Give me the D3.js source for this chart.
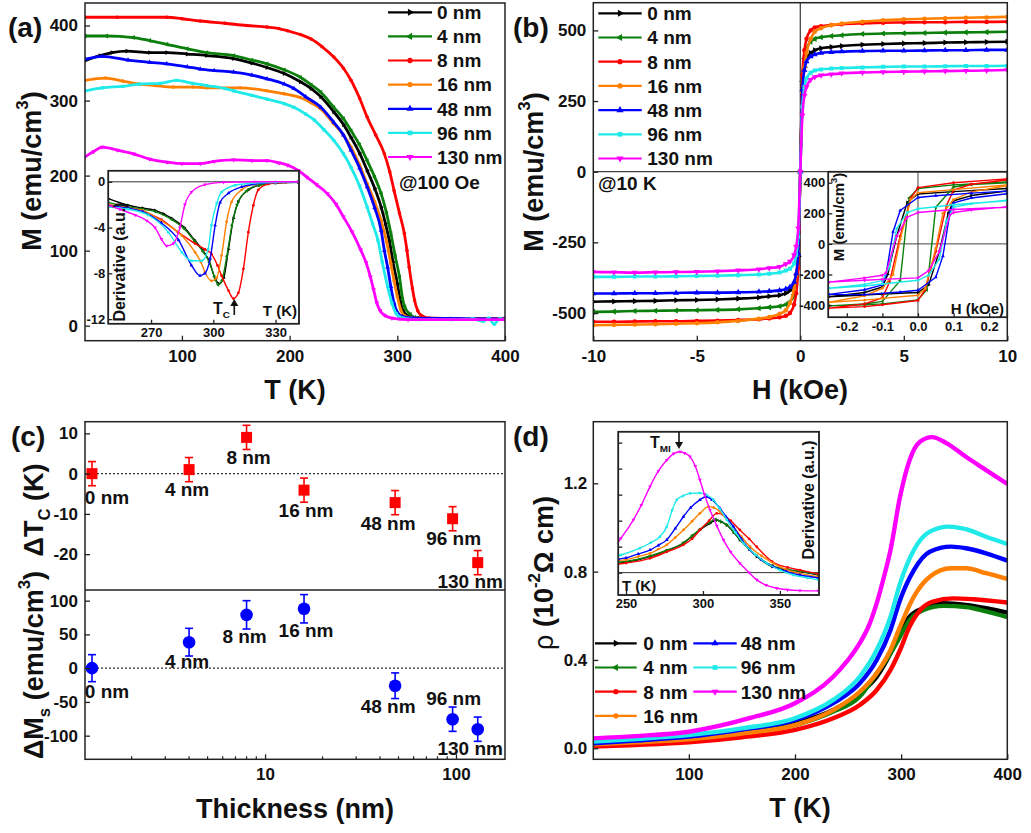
<!DOCTYPE html>
<html><head><meta charset="utf-8">
<script src="https://cdn.jsdelivr.net/npm/d3@7"></script>
<style>body{margin:0;background:#fff}</style>
</head><body><svg id="c" width="1031" height="833"></svg>
<script>
// ---------------- DATA ----------------
const names = ["0 nm","4 nm","8 nm","16 nm","48 nm","96 nm","130 nm"];
const colors = ["#000000","#0b7f0b","#ff0000","#ff8000","#0000ff","#1fe9e9","#ff00ff"];

// (a) M vs T @100 Oe  [T (K), M (emu/cm3)]
const mt0 = [[10,353],[24,360],[35,364],[49,366],[70,364],[86,364],[105,362],[123,360],[148,356],[165,350],[179,344],[195,336],[210,325],[220,316],[229,305],[241,285],[250,268],[257,251],[265,230],[272,207],[279,183],[285,158],[289,136],[292.5,114],[296,85],[300,56],[303,32],[305,21],[310,13],[320,10],[350,9],[400,9]];
const mt4 = [[10,386],[30,386],[55,384],[70,380],[86,375],[105,369],[123,364],[148,360],[165,354],[179,349],[195,341],[210,331],[220,321],[229,311],[241,291],[250,276],[257,260],[265,241],[272,220],[279,198],[285,176],[290,150],[294,123],[298,93],[302,65],[305,35],[307,25],[312,15],[316,11],[330,9],[400,9]];
const mt8 = [[10,411],[40,411],[86,411],[100,409],[117,406],[140,403],[160,400],[179,398],[190,396],[198,393],[210,388],[220,382],[230,372],[241,358],[250,343],[257,327],[265,303],[272,278],[280,254],[288,229],[293,205],[297,180],[302,150],[306.5,123],[309,100],[311,78],[314,50],[316,34],[319,20],[322,14],[330,10],[400,9]];
const mt16 = [[10,327],[29,330],[45,326],[60,322],[75,320],[92,318],[110,318],[123,317],[154,317],[179,313],[195,309],[210,304],[220,297],[229,289],[241,269],[250,254],[257,238],[265,214],[272,189],[279,165],[285,140],[290,112],[294,83],[297,60],[300,39],[303,22],[307,13],[315,10],[400,9]];
const mt48 = [[10,355],[26,359],[50,354],[70,351],[86,349],[105,345],[117,342],[130,340],[148,338],[165,334],[179,329],[195,322],[204,316],[215,305],[229,291],[241,271],[250,254],[257,234],[265,210],[272,185],[279,157],[285,127],[288,100],[291,78],[294,52],[297,30],[300,18],[305,12],[315,10],[400,9]];
const mt96 = [[10,313],[26,317],[45,319],[60,322],[80,323],[95,327],[110,323],[123,320],[140,316],[148,313],[165,307],[179,302],[195,296],[204,291],[215,282],[223,274],[232,261],[241,247],[250,229],[257,211],[265,186],[272,158],[277,136],[282,114],[286,85],[291,52],[295,30],[299,16],[305,10],[320,8],[350,8],[370,9],[380,6],[385,10],[390,2],[395,9],[400,8]];
const mt130 = [[10,225],[18,232],[26,238],[40,234],[55,229],[70,222],[86,218],[100,216],[117,216],[130,219],[148,221],[165,220],[179,220],[190,217],[198,214],[208,207],[216,198],[225,188],[235,176],[243,162],[250,145],[258,125],[266,101],[271,84],[275,65],[278,48],[281,30],[284,20],[288,14],[295,10],[310,8],[400,8]];

// (a) inset dM/dT  [T (K), derivative]
const dm0 = [[249.4,-1.47],[259,-2.05],[266,-2.3],[272,-2.5],[276,-2.8],[280,-3.2],[286,-4.0],[291,-5.1],[295,-6.0],[298,-6.9],[301,-8.5],[302.8,-8.9],[305,-8.4],[307.3,-5.9],[309.7,-3.2],[312,-1.76],[317,-0.7],[322,-0.3],[330,-0.1],[341,-0.05]];
const dm4 = [[249.4,-1.8],[259,-2.2],[266,-2.4],[272,-2.6],[280,-3.3],[286,-4.1],[291,-5.2],[295,-6.1],[298,-7.0],[300.5,-8.3],[302.3,-9.0],[304.2,-8.6],[306.5,-6.5],[309,-3.8],[311.5,-2.0],[316,-0.8],[322,-0.3],[330,-0.1],[341,-0.05]];
const dm8 = [[249.4,-2.0],[259,-2.3],[266,-2.6],[275,-3.3],[283,-4.4],[291.2,-5.4],[296,-5.9],[299.1,-6.3],[302,-7.3],[304,-8.2],[307.3,-9.5],[309.7,-10.2],[312.1,-9.7],[314.5,-7.6],[316.9,-4.4],[319.3,-2.05],[321.7,-0.7],[326.5,-0.2],[335,-0.05],[341,0]];
const dm16 = [[249.4,-2.0],[259,-2.3],[266,-2.5],[275,-3.4],[284.8,-4.7],[291.2,-6.15],[294,-7.0],[296,-7.9],[299.1,-8.65],[301.6,-8.4],[304,-6.45],[306.4,-3.5],[308.8,-1.76],[313.7,-0.7],[320,-0.2],[330,-0.05],[341,0]];
const dm48 = [[249.4,-2.1],[259,-2.3],[266,-2.6],[275,-3.6],[283.3,-5.1],[289.5,-7.3],[293.6,-8.2],[296,-8.0],[298.5,-6.7],[300.9,-3.8],[303.3,-1.8],[307.3,-1.0],[313.7,-0.45],[320,-0.2],[330,-0.05],[341,0]];
const dm96 = [[249.4,-2.2],[259,-2.4],[268.6,-2.9],[278.3,-4.4],[284.8,-6.15],[289.5,-6.9],[294.4,-6.9],[297.5,-5.9],[299.1,-3.8],[301.6,-1.9],[304,-0.9],[310.5,-0.3],[320,-0.1],[330,-0.05],[341,0]];
const dm130 = [[249.4,-2.05],[255,-2.4],[262.3,-2.9],[268,-3.4],[271.9,-4.0],[275,-5.0],[277.5,-5.6],[280.7,-5.4],[283.9,-4.0],[286.3,-2.0],[289.5,-0.9],[296,-0.25],[305,-0.05],[320,0],[341,0]];

// (b) M vs H @10 K
const hGrid = [-10,-9,-8,-7,-6,-5,-4,-3,-2,-1.5,-1,-0.7,-0.5,-0.3,-0.2,-0.1,0,0.1,0.2,0.3,0.5,0.7,1,1.5,2,3,4,5,6,7,8,9,10];
const mh0 = [-460,-459,-458,-457,-455,-454,-452,-449,-445,-441,-437,-430,-420,-400,-370,-300,0,300,370,400,420,430,437,441,445,449,452,454,455,457,458,459,460];
const mh4 = [-496,-495,-493,-492,-491,-490,-489,-487,-483,-480,-476,-470,-460,-435,-400,-320,0,320,400,435,460,470,476,480,483,487,489,490,491,492,493,494,495];
const mh8 = [-531,-531,-530,-529,-529,-528,-527,-525,-522,-519,-515,-510,-500,-470,-430,-340,0,340,430,470,500,510,515,519,522,525,527,528,529,529,530,530,531];
const mh16 = [-543,-542,-541,-540,-538,-536,-533,-528,-520,-514,-503,-490,-465,-415,-365,-280,0,280,370,420,470,495,508,518,524,531,536,539,541,543,545,546,548];
const mh48 = [-431,-431,-430,-430,-429,-428,-428,-427,-425,-423,-420,-415,-408,-390,-360,-290,0,290,360,390,408,415,420,423,425,427,428,428,429,430,430,431,431];
const mh96 = [-372,-372,-371,-371,-370,-369,-368,-366,-364,-361,-357,-350,-343,-325,-295,-230,0,230,300,330,350,358,362,365,367,369,371,372,372,373,374,374,375];
const mh130 = [-355,-356,-357,-356,-355,-354,-352,-349,-345,-341,-336,-327,-318,-295,-265,-200,0,200,270,300,325,335,341,345,348,351,353,354,355,356,357,358,360];

// (b) inset loops [H (kOe), M]: descending branch then ascending branch
const loop0 = [[0.25,362],[0.1,342],[0,326],[-0.03,272],[-0.06,50],[-0.085,-200],[-0.1,-282],[-0.15,-318],[-0.25,-346],[-0.15,-335],[-0.1,-328],[0,-318],[0.03,-268],[0.06,-50],[0.085,200],[0.1,282],[0.15,316],[0.25,346]];
const loop4 = [[0.25,405],[0.1,386],[0,362],[-0.025,300],[-0.05,-240],[-0.1,-376],[-0.15,-392],[-0.25,-405],[-0.15,-398],[-0.1,-392],[0,-366],[0.025,-300],[0.05,240],[0.1,372],[0.15,388],[0.25,400]];
const loop8 = [[0.25,425],[0.1,400],[0,368],[-0.02,300],[-0.05,50],[-0.08,-250],[-0.1,-352],[-0.15,-392],[-0.25,-420],[-0.15,-410],[-0.1,-398],[0,-370],[0.02,-300],[0.05,-50],[0.08,250],[0.1,352],[0.15,390],[0.25,418]];
const loop16 = [[0.25,385],[0.1,355],[0,334],[-0.02,292],[-0.05,30],[-0.07,-200],[-0.1,-290],[-0.15,-340],[-0.25,-382],[-0.15,-368],[-0.1,-356],[0,-336],[0.02,-292],[0.05,-30],[0.07,200],[0.1,290],[0.15,340],[0.25,380]];
const loop48 = [[0.25,345],[0.15,332],[0.05,315],[0,303],[-0.05,218],[-0.07,80],[-0.09,-204],[-0.1,-268],[-0.15,-300],[-0.25,-330],[-0.15,-332],[-0.05,-315],[0,-303],[0.05,-218],[0.07,-80],[0.09,204],[0.1,268],[0.15,300],[0.25,328]];
const loop96 = [[0.25,282],[0.1,256],[0,230],[-0.03,205],[-0.06,100],[-0.08,-150],[-0.1,-240],[-0.15,-265],[-0.25,-290],[-0.15,-275],[-0.1,-262],[0,-238],[0.03,-205],[0.06,-100],[0.08,150],[0.1,240],[0.15,262],[0.25,286]];
const loop130 = [[0.25,240],[0.1,225],[0,205],[-0.03,175],[-0.06,50],[-0.09,-190],[-0.1,-205],[-0.15,-222],[-0.25,-250],[-0.15,-238],[-0.1,-232],[0,-222],[0.03,-175],[0.06,-50],[0.09,190],[0.1,205],[0.15,222],[0.25,242]];

// (c) thickness dependence
const thickness = [0, 4, 8, 16, 48, 96, 130];
const thicknessPlotX = [1.24, 4, 8, 16, 48, 96, 130];   // 0 nm drawn left of 2 on the log axis
const dTc = [0, 1, 9, -4.1, -7.2, -11.2, -22.1];
const dTcErr = [3, 3, 3, 3, 3, 3, 3];
const dMs = [0, 38.5, 79, 88, -26, -75.6, -90.4];
const dMsErr = [20, 20.5, 21, 21, 19, 18, 18];

// (d) resistivity [T (K), rho (1e-2 Ohm cm)]
const rt0 = [[10,0.015],[50,0.024],[100,0.038],[150,0.07],[200,0.113],[236,0.173],[261,0.249],[277,0.324],[290,0.43],[299,0.521],[308,0.596],[321,0.634],[340,0.657],[361,0.649],[380,0.634],[400,0.614]];
const rt4 = [[10,0.023],[50,0.031],[100,0.045],[150,0.07],[200,0.105],[236,0.166],[261,0.234],[277,0.34],[290,0.43],[299,0.506],[308,0.581],[321,0.626],[340,0.645],[361,0.64],[380,0.62],[400,0.594]];
const rt8 = [[10,0.008],[50,0.015],[100,0.027],[150,0.05],[200,0.083],[236,0.136],[261,0.196],[277,0.264],[290,0.355],[299,0.445],[308,0.551],[318,0.626],[330,0.664],[349,0.679],[368,0.675],[400,0.66]];
const rt16 = [[10,0.018],[50,0.027],[100,0.041],[150,0.067],[200,0.105],[236,0.173],[261,0.256],[277,0.34],[290,0.445],[299,0.551],[312,0.687],[327,0.777],[347,0.815],[361,0.815],[380,0.793],[400,0.767]];
const rt48 = [[10,0.023],[50,0.035],[100,0.053],[150,0.085],[200,0.128],[236,0.204],[261,0.294],[277,0.40],[290,0.536],[299,0.672],[312,0.807],[327,0.89],[347,0.913],[361,0.906],[380,0.883],[400,0.85]];
const rt96 = [[10,0.03],[50,0.042],[100,0.06],[150,0.09],[200,0.136],[236,0.219],[261,0.324],[277,0.445],[290,0.596],[299,0.747],[312,0.898],[327,0.981],[345,1.004],[361,0.992],[380,0.958],[400,0.925]];
const rt130 = [[10,0.045],[50,0.055],[100,0.075],[157,0.136],[200,0.204],[236,0.324],[250,0.40],[261,0.476],[270,0.56],[277,0.657],[284,0.78],[290,0.898],[299,1.14],[308,1.306],[318,1.389],[329,1.409],[343,1.381],[361,1.32],[380,1.26],[400,1.197]];

// (d) inset d(rho)/dT
const dr0 = [[245,0.36],[250,0.4],[265.6,0.62],[276.5,0.85],[287.3,1.13],[293,1.4],[298,1.64],[304.6,1.9],[307,2.0],[309,2.02],[312,1.95],[315.5,1.83],[320,1.55],[324,1.26],[330,0.9],[335,0.62],[345,0.23],[355,0.1],[363,0.04],[375,-0.09]];
const dr4 = [[245,0.4],[250,0.43],[265.6,0.64],[276.5,0.86],[287.3,1.15],[293,1.42],[298,1.66],[304,1.92],[308,2.05],[311,1.98],[315,1.85],[320,1.57],[324,1.28],[330,0.92],[335,0.64],[345,0.27],[355,0.12],[363,0.05],[375,-0.07]];
const dr8 = [[245,0.33],[250,0.37],[265.6,0.55],[276.5,0.8],[287.3,1.07],[293,1.3],[298,1.64],[304,2.0],[309,2.28],[313.3,2.22],[318,2.0],[324,1.64],[330,1.3],[335,0.99],[345,0.42],[355,0.2],[363,0.1],[375,-0.05]];
const dr16 = [[245,0.47],[250,0.5],[258,0.62],[265.6,0.74],[271,0.9],[276.5,1.07],[282,1.35],[287.3,1.64],[293,1.98],[298,2.28],[303.6,2.54],[307,2.5],[311,2.35],[315,2.1],[319.8,1.77],[325,1.38],[330.6,1.0],[338,0.65],[345.8,0.36],[354,0.12],[363,-0.03],[375,-0.16]];
const dr48 = [[245,0.52],[250,0.57],[258,0.72],[265.6,0.87],[271,1.05],[276.5,1.26],[282,1.7],[287.3,2.15],[292,2.5],[298,2.8],[302,2.92],[306,2.8],[311,2.48],[315,2.15],[319.8,1.77],[325,1.3],[330.6,0.87],[338,0.5],[345.8,0.23],[354,0.05],[363,-0.09],[375,-0.2]];
const dr96 = [[245,0.65],[246.6,0.68],[259,0.94],[266,1.15],[272,1.38],[276.5,1.77],[280,2.4],[283,2.8],[287,2.95],[291.6,3.05],[298,3.06],[302,3.0],[306.8,2.8],[311,2.45],[315.5,2.03],[321,1.55],[326.3,1.13],[334,0.7],[341.5,0.36],[350,0.1],[358.8,-0.09],[368,-0.2],[375,-0.28]];
const dr130 = [[245,1.2],[246.6,1.32],[254.8,2.03],[260,2.6],[265.6,3.31],[271,3.9],[276.5,4.33],[281,4.58],[285.1,4.65],[288,4.6],[291.6,4.46],[295,4.1],[298,3.57],[301,3.0],[304.6,2.41],[309,1.8],[313.3,1.26],[318,0.8],[324,0.36],[330,0.0],[335,-0.28],[341,-0.48],[348,-0.6],[355,-0.66],[363,-0.69],[375,-0.7]];

// tick values
const aTicksX = [100,200,300,400], aTicksY = [0,100,200,300,400];
const aInTicksX = [270,300,330], aInTicksY = [0,-4,-8,-12];
const bTicksX = [-10,-5,0,5,10], bTicksY = [-500,-250,0,250,500];
const bInTicksX = [-0.2,-0.1,0,0.1,0.2], bInTicksY = [-400,-200,0,200,400];
const cTicksX = [10,100], cMinorX = [2,3,4,5,6,7,8,9,20,30,40,50,60,70,80,90];
const cTicksYT = [-20,-10,0,10], cTicksYM = [-100,-50,0,50,100];
const dTicksX = [100,200,300,400], dTicksY = [0,0.4,0.8,1.2];
const dInTicksX = [250,300,350], dInTicksY = [0,1,2,3,4,5];

// ---------------- DRAWING ----------------
const FONT = '"Liberation Sans", Arial, Helvetica, sans-serif';
const TICK_FS = 17, LEG_FS = 19;
const svg = d3.select("#c");
svg.append("rect").attr("width",1031).attr("height",833).attr("fill","#fff");
const defs = svg.append("defs");
let clipN = 0;
function clip(x0,y0,x1,y1){
  const id = "clip"+(clipN++);
  defs.append("clipPath").attr("id",id).append("rect").attr("x",x0).attr("y",y0).attr("width",x1-x0).attr("height",y1-y0);
  return "url(#"+id+")";
}
const symbols = [
  {t:d3.symbolTriangle, r:90},{t:d3.symbolTriangle, r:-90},{t:d3.symbolCircle, r:0},
  {t:d3.symbolCircle, r:0},{t:d3.symbolTriangle, r:0},{t:d3.symbolSquare, r:0},{t:d3.symbolTriangle, r:180}];

function txt(g, x, y, s, fs, opts={}){
  const t = g.append("text").attr("x",x).attr("y",y).attr("font-family",FONT)
    .attr("font-weight",opts.weight||"bold").attr("font-size",fs).attr("fill","#111")
    .attr("text-anchor",opts.anchor||"start");
  if (s) t.text(s);
  if (opts.rotate) t.attr("transform",`rotate(-90,${x},${y})`);
  return t;
}
function rich(t, parts){
  parts.forEach(([s,k])=>{
    const sp = t.append("tspan").text(s);
    if (k==="sup") sp.attr("font-size","62%").attr("dy","-0.75em");
    else if (k==="sub") sp.attr("font-size","62%").attr("dy","0.4em");
    else if (k==="back-sup") sp.attr("dy","0.46em");
    else if (k==="back-sub") sp.attr("dy","-0.25em");
    else if (k==="norm") sp.attr("font-weight","normal");
  });
  return t;
}
function frame(g,x0,y0,x1,y1,fill){
  g.append("rect").attr("x",x0).attr("y",y0).attr("width",x1-x0).attr("height",y1-y0)
   .attr("fill",fill||"none").attr("stroke","#222").attr("stroke-width",1.5);
}
function styleAxis(sel, fs){
  sel.select(".domain").remove();
  sel.selectAll("line").attr("stroke","#222").attr("stroke-width",1.3);
  sel.selectAll("text").attr("font-size",fs).attr("font-family",FONT).attr("font-weight","bold").attr("fill","#111");
}
function xAxis(g, sc, y, ticks, fmt, fs, pad, len){
  const a = d3.axisBottom(sc).tickValues(ticks).tickFormat(fmt).tickSizeInner(-len).tickSizeOuter(0).tickPadding(pad);
  styleAxis(g.append("g").attr("transform",`translate(0,${y})`).call(a), fs);
}
function yAxis(g, sc, x, ticks, fmt, fs, pad, len){
  const a = d3.axisLeft(sc).tickValues(ticks).tickFormat(fmt).tickSizeInner(-len).tickSizeOuter(0).tickPadding(pad);
  styleAxis(g.append("g").attr("transform",`translate(${x},0)`).call(a), fs);
}
function series(g, xs, ys, data, i, o){
  g.append("path").datum(data).attr("fill","none").attr("stroke",colors[i])
    .attr("stroke-width",o.w).attr("stroke-linejoin","round")
    .attr("d", d3.line().x(d=>xs(d[0])).y(d=>ys(d[1])).curve(o.curve||d3.curveMonotoneX));
  if (o.ms>0){
    const sym = d3.symbol().type(symbols[i].t).size(o.ms);
    g.selectAll(null).data(data).join("path").attr("d",sym).attr("fill",colors[i])
      .attr("transform",d=>`translate(${xs(d[0])},${ys(d[1])}) rotate(${symbols[i].r})`);
  }
}
function legendRow(g, x0, x1, y, tx, i, fs){
  g.append("line").attr("x1",x0).attr("x2",x1).attr("y1",y).attr("y2",y).attr("stroke",colors[i]).attr("stroke-width",2.2);
  g.append("path").attr("d",d3.symbol().type(symbols[i].t).size(22)).attr("fill",colors[i])
    .attr("transform",`translate(${(x0+x1)/2},${y}) rotate(${symbols[i].r})`);
  txt(g, tx, y, names[i], fs).attr("dy","0.36em");
}
function arrow(g, x, yTail, yTip){
  const dir = yTip < yTail ? -1 : 1;
  g.append("line").attr("x1",x).attr("x2",x).attr("y1",yTail).attr("y2",yTip - dir*5).attr("stroke","#111").attr("stroke-width",1.6);
  g.append("path").attr("d",`M${x},${yTip} L${x-4},${yTip-dir*7} L${x+4},${yTip-dir*7} Z`).attr("fill","#111");
}
const fmtInt = d => String(d);
const fmt1 = d => d.toFixed(1);

// ============ PANEL (a) ============
{
  const g = svg.append("g");
  const x = d3.scaleLinear().domain([10,400]).range([85,505]);
  const y = d3.scaleLinear().domain([-20,430]).range([340.7,3]);
  const pg = g.append("g").attr("clip-path",clip(85,3,505,340.7));
  [mt0,mt4,mt8,mt16,mt48,mt96,mt130].forEach((d,i)=>series(pg,x,y,d,i,{w:2.8,ms:10}));
  frame(g,85,3,505,340.7);
  xAxis(g,x,340.7,aTicksX,fmtInt,TICK_FS,9,5);
  yAxis(g,y,85,aTicksY,fmtInt,TICK_FS,7,5);
  [12.3,36.4,60.5,84.6,108.8,132.9,157].forEach((yy,i)=>legendRow(g,388,432,yy,437,i,LEG_FS));
  txt(g,399,181.7,"@100 Oe",LEG_FS).attr("dy","0.36em");
  txt(g,8,37,"(a)",28);
  txt(g,295,399,"T (K)",27,{anchor:"middle"});
  rich(txt(g,41,171,"",27,{anchor:"middle",rotate:true}),[["M (emu/cm"],["3","sup"],[")","back-sup"]]);

  // inset
  const ix = d3.scaleLinear().domain([249.4,341.3]).range([108.3,299]);
  const iy = d3.scaleLinear().domain([-12.4,0.97]).range([323.7,170.7]);
  frame(g,108.3,170.7,299,323.7,"#fff");
  g.append("line").attr("x1",108.3).attr("x2",299).attr("y1",iy(0)).attr("y2",iy(0)).attr("stroke","#333").attr("stroke-width",1);
  const ig = g.append("g").attr("clip-path",clip(108.3,170.7,299,323.7));
  [dm0,dm4,dm8,dm16,dm48,dm96,dm130].forEach((d,i)=>series(ig,ix,iy,d,i,{w:1.4,ms:6}));
  frame(g,108.3,170.7,299,323.7);
  xAxis(g,ix,323.7,aInTicksX,fmtInt,13,4,4);
  yAxis(g,iy,108.3,aInTicksY,fmtInt,13,3,4);
  txt(g,125,262,"Derivative (a.u.)",16,{anchor:"middle",rotate:true});
  rich(txt(g,213,314,"",16),[["T"],["C","sub"]]);
  arrow(g,234.3,315,299);
  txt(g,297,316,"T (K)",15,{anchor:"end"});
}

// ============ PANEL (b) ============
{
  const g = svg.append("g");
  const x = d3.scaleLinear().domain([-10,10]).range([593.3,1007.3]);
  const y = d3.scaleLinear().domain([-598,598]).range([340.7,2.7]);
  g.append("line").attr("x1",593.3).attr("x2",1007.3).attr("y1",y(0)).attr("y2",y(0)).attr("stroke","#444").attr("stroke-width",1.3);
  g.append("line").attr("x1",x(0)).attr("x2",x(0)).attr("y1",2.7).attr("y2",340.7).attr("stroke","#444").attr("stroke-width",1.3);
  const pg = g.append("g").attr("clip-path",clip(593.3,2.7,1007.3,340.7));
  [mh0,mh4,mh8,mh16,mh48,mh96,mh130].forEach((vals,i)=>{
    const d = hGrid.map((h,k)=>[h,vals[k]]);
    series(pg,x,y,d,i,{w:2.6,ms:16,curve:d3.curveMonotoneX});
  });
  frame(g,593.3,2.7,1007.3,340.7);
  xAxis(g,x,340.7,bTicksX,fmtInt,TICK_FS,9,5);
  yAxis(g,y,593.3,bTicksY,fmtInt,TICK_FS,7,5);
  [13.3,37.5,61.7,85.9,110.1,134.3,158.5].forEach((yy,i)=>legendRow(g,598.3,641.7,yy,647.3,i,LEG_FS));
  txt(g,598,183.5,"@10 K",LEG_FS).attr("dy","0.36em");
  txt(g,513,37,"(b)",28);
  txt(g,800,399,"H (kOe)",27,{anchor:"middle"});
  rich(txt(g,543,172,"",27,{anchor:"middle",rotate:true}),[["M (emu/cm"],["3","sup"],[")","back-sup"]]);

  // inset
  const ix = d3.scaleLinear().domain([-0.252,0.251]).range([828.3,1007.3]);
  const iy = d3.scaleLinear().domain([-480,472]).range([317.3,171.7]);
  frame(g,828.3,171.7,1007.3,317.3,"#fff");
  g.append("line").attr("x1",828.3).attr("x2",1007.3).attr("y1",iy(0)).attr("y2",iy(0)).attr("stroke","#444").attr("stroke-width",1);
  g.append("line").attr("x1",ix(0)).attr("x2",ix(0)).attr("y1",171.7).attr("y2",317.3).attr("stroke","#444").attr("stroke-width",1);
  const ig = g.append("g").attr("clip-path",clip(828.3,171.7,1007.3,317.3));
  [loop0,loop4,loop8,loop16,loop48,loop96,loop130].forEach((d,i)=>series(ig,ix,iy,d,i,{w:1.4,ms:6,curve:d3.curveLinear}));
  frame(g,828.3,171.7,1007.3,317.3);
  xAxis(g,ix,317.3,bInTicksX,fmt1,13,4,4);
  yAxis(g,iy,828.3,bInTicksY,fmtInt,13,3,4);
  rich(txt(g,844,217,"",15,{anchor:"middle",rotate:true}),[["M (emu/cm"],["3","sup"],[")","back-sup"]]);
  txt(g,1004,314,"H (kOe)",15,{anchor:"end"});
}

// ============ PANEL (c) ============
{
  const g = svg.append("g");
  const x = d3.scaleLog().domain([1.14,180.6]).range([85,505]);
  const yT = d3.scaleLinear().domain([-28.9,12.9]).range([590,421.7]);
  const yM = d3.scaleLinear().domain([-135,115.8]).range([759.3,590]);
  g.append("line").attr("x1",85).attr("x2",505).attr("y1",yT(0)).attr("y2",yT(0)).attr("stroke","#333").attr("stroke-width",1.2).attr("stroke-dasharray","2,2");
  g.append("line").attr("x1",85).attr("x2",505).attr("y1",yM(0)).attr("y2",yM(0)).attr("stroke","#333").attr("stroke-width",1.2).attr("stroke-dasharray","2,2");
  frame(g,85,421.7,505,759.3);
  g.append("line").attr("x1",85).attr("x2",505).attr("y1",590).attr("y2",590).attr("stroke","#222").attr("stroke-width",1.5);
  const labT = [[15,30],[-2,26],[2,27],[2,27],[-7,27],[1,26],[-7.5,25]];
  const labM = [[15,30],[-2,26],[-2,28],[2,28],[-7,27],[1,-14],[-7.5,26]];
  thicknessPlotX.forEach((tx,k)=>{
    txt(g,x(tx)+labT[k][0],yT(dTc[k])+labT[k][1],names[k],LEG_FS,{anchor:"middle"});
    txt(g,x(tx)+labM[k][0],yM(dMs[k])+labM[k][1],names[k],LEG_FS,{anchor:"middle"});
  });
  thicknessPlotX.forEach((tx,k)=>{
    const px = x(tx);
    [[yT,dTc[k],dTcErr[k],"#ff0000"],[yM,dMs[k],dMsErr[k],"#0000ff"]].forEach(([ys,v,e,c])=>{
      g.append("line").attr("x1",px).attr("x2",px).attr("y1",ys(v+e)).attr("y2",ys(v-e)).attr("stroke",c).attr("stroke-width",1.6);
      [v+e,v-e].forEach(w=>g.append("line").attr("x1",px-4).attr("x2",px+4).attr("y1",ys(w)).attr("y2",ys(w)).attr("stroke",c).attr("stroke-width",1.6));
    });
    g.append("rect").attr("x",px-5.5).attr("y",yT(dTc[k])-5.5).attr("width",11).attr("height",11).attr("fill","#ff0000");
    g.append("circle").attr("cx",px).attr("cy",yM(dMs[k])).attr("r",6.3).attr("fill","#0000ff");
  });
  xAxis(g,x,759.3,cTicksX,fmtInt,TICK_FS,9,5);
  const mn = g.append("g").attr("transform","translate(0,759.3)");
  mn.selectAll(null).data(cMinorX).join("line").attr("x1",d=>x(d)).attr("x2",d=>x(d)).attr("y1",0).attr("y2",-3).attr("stroke","#222").attr("stroke-width",1.2);
  yAxis(g,yT,85,cTicksYT,fmtInt,TICK_FS,7,5);
  yAxis(g,yM,85,cTicksYM,fmtInt,TICK_FS,7,5);
  txt(g,11,446,"(c)",28);
  txt(g,295,818,"Thickness (nm)",27,{anchor:"middle"});
  rich(txt(g,43,510,"",27,{anchor:"middle",rotate:true}),[["ΔT"],["C","sub"],[" (K)","back-sub"]]);
  rich(txt(g,43,665,"",27,{anchor:"middle",rotate:true}),[["ΔM"],["s","sub"],[" (emu/cm","back-sub"],["3","sup"],[")","back-sup"]]);
}

// ============ PANEL (d) ============
{
  const g = svg.append("g");
  const x = d3.scaleLinear().domain([10,400]).range([593.3,1007.3]);
  const y = d3.scaleLinear().domain([-0.05,1.479]).range([759.3,421.7]);
  const pg = g.append("g").attr("clip-path",clip(593.3,421.7,1007.3,759.3));
  [rt0,rt4,rt8,rt16,rt48,rt96,rt130].forEach((d,i)=>series(pg,x,y,d,i,{w:4.4,ms:0}));
  frame(g,593.3,421.7,1007.3,759.3);
  xAxis(g,x,759.3,dTicksX,fmtInt,TICK_FS,9,5);
  yAxis(g,y,593.3,dTicksY,fmt1,TICK_FS,6,5);
  [0,1,2,3].forEach(k=>legendRow(g,595,636.7,643.3+k*24.2,643.3,k,LEG_FS));
  [4,5,6].forEach((i,k)=>legendRow(g,693.3,736.7,643.3+k*24.2,740.7,i,LEG_FS));
  txt(g,513,446,"(d)",28);
  txt(g,800,817,"T (K)",27,{anchor:"middle"});
  rich(txt(g,553,573,"",27,{anchor:"middle",rotate:true}),[["ρ","norm"],[" (10"],["-2","sup"],["Ω","back-sup"],[" cm)"]]);

  // inset
  const ix = d3.scaleLinear().domain([245,375.4]).range([618.3,819]);
  const iy = d3.scaleLinear().domain([-0.86,5.42]).range([595,431.7]);
  frame(g,618.3,431.7,819,595,"#fff");
  g.append("line").attr("x1",618.3).attr("x2",819).attr("y1",iy(0)).attr("y2",iy(0)).attr("stroke","#333").attr("stroke-width",1);
  const ig = g.append("g").attr("clip-path",clip(618.3,431.7,819,595));
  [dr0,dr4,dr8,dr16,dr48,dr96,dr130].forEach((d,i)=>series(ig,ix,iy,d,i,{w:1.4,ms:6}));
  frame(g,618.3,431.7,819,595);
  xAxis(g,ix,595,dInTicksX,fmtInt,13,4,4);
  yAxis(g,iy,618.3,dInTicksY,()=>"",13,3,4);
  rich(txt(g,650,448,"",16),[["T"],["MI","sub"]]);
  arrow(g,679,431.7,449);
  txt(g,814,500,"Derivative (a.u.)",16,{anchor:"middle",rotate:true});
  txt(g,622,591,"T (K)",15);
}
</script></body></html>
